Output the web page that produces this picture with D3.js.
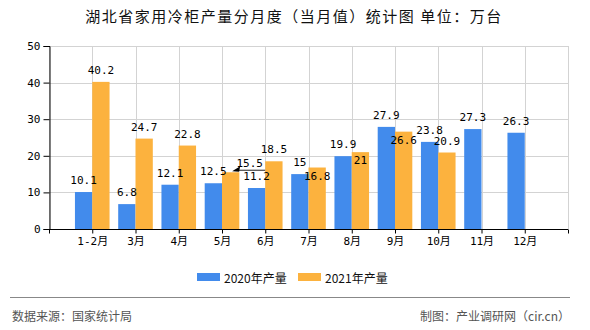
<!DOCTYPE html>
<html><head><meta charset="utf-8">
<script src="https://cdn.jsdelivr.net/npm/d3@7"></script>
<style>
html,body{margin:0;padding:0;background:#fff;}
svg{display:block;}
</style></head>
<body>
<svg id="chart" width="590" height="330"></svg>
<script>
const categories = ["1-2月","3月","4月","5月","6月","7月","8月","9月","10月","11月","12月"];
const values2020 = [10.1, 6.8, 12.1, 12.5, 11.2, 15, 19.9, 27.9, 23.8, 27.3, 26.3];
const values2021 = [40.2, 24.7, 22.8, 15.5, 18.5, 16.8, 21, 26.6, 20.9, null, null];
const seriesNames = ["2020年产量", "2021年产量"];
const yTicks = [0, 10, 20, 30, 40, 50];
const placement2021 = ["above","above","above","leader","above","inside","inside","inside","above","above","above"];
const title = "湖北省家用冷柜产量分月度（当月值）统计图 单位：万台";
const sourceText = "数据来源：国家统计局";
const creditText = "制图：产业调研网（cir.cn）";

const colors = ["#428bec", "#fcb23e"];
const monoFont = "'DejaVu Sans Mono','Liberation Mono','Noto Sans CJK SC',monospace";
const cjkFont = "'Noto Sans CJK SC','Noto Sans',sans-serif";

const svg = d3.select("#chart");
const L = 49, R = 568, T = 46, B = 229;

const x = d3.scalePoint().domain(categories).range([L, R]).padding(1);
const y = d3.scaleLinear().domain([0, 50]).range([B, T]);
const step = x.step();
const bw = step * 0.4;

// title
svg.append("text").attr("x", 294).attr("y", 22).attr("text-anchor", "middle")
  .attr("font-family", cjkFont).attr("font-size", 15).attr("letter-spacing", "1.5px")
  .attr("fill", "#111").text(title);

// grid
const grid = svg.append("g").attr("stroke", "#d3d3d3").attr("stroke-width", 1);
yTicks.filter(t => t > 0).forEach(t => {
  grid.append("line").attr("x1", L).attr("x2", R).attr("y1", Math.round(y(t)) + 0.5).attr("y2", Math.round(y(t)) + 0.5);
});
const vPos = [x(categories[0]) - step, ...categories.map(c => x(c)), x(categories[categories.length - 1]) + step];
vPos.forEach(p => {
  grid.append("line").attr("x1", Math.round(p) + 0.5).attr("x2", Math.round(p) + 0.5).attr("y1", T).attr("y2", B);
});

// bars
const bars = svg.append("g");
categories.forEach((c, i) => {
  if (values2020[i] != null) {
    bars.append("rect").attr("x", x(c) - bw).attr("width", bw)
      .attr("y", y(values2020[i])).attr("height", y(0) - y(values2020[i])).attr("fill", colors[0]);
  }
  if (values2021[i] != null) {
    bars.append("rect").attr("x", x(c)).attr("width", bw)
      .attr("y", y(values2021[i])).attr("height", y(0) - y(values2021[i])).attr("fill", colors[1]);
  }
});

// axes
const yAxis = d3.axisLeft(y).tickValues(yTicks).tickSize(6).tickPadding(3).tickFormat(d3.format("d"));
const gy = svg.append("g").attr("transform", `translate(${L + 0.5},0)`).call(yAxis);
gy.select(".domain").attr("stroke", "#000");
gy.selectAll(".tick line").attr("stroke", "#000");
gy.selectAll("text").attr("font-family", monoFont).attr("font-size", 11).attr("fill", "#000");

const xAxis = d3.axisBottom(x).tickSize(4).tickSizeOuter(0).tickPadding(4);
const gx = svg.append("g").attr("transform", `translate(0,${B + 0.5})`).call(xAxis);
gx.select(".domain").attr("stroke", "#000").attr("d", `M${L},0H${R}`);
gx.selectAll(".tick line").attr("stroke", "#000");
gx.selectAll("text").attr("font-family", monoFont).attr("font-size", 11).attr("fill", "#000");
[vPos[0], vPos[vPos.length - 1]].forEach(p => {
  gx.append("line").attr("x1", Math.round(p) + 0.5).attr("x2", Math.round(p) + 0.5).attr("y1", 0).attr("y2", 4).attr("stroke", "#000");
});

// value labels
const lab = svg.append("g").attr("font-family", monoFont).attr("font-size", 11).attr("fill", "#000").attr("text-anchor", "middle");
categories.forEach((c, i) => {
  const v = values2020[i];
  if (v != null) {
    lab.append("text").attr("x", x(c) - bw / 2).attr("y", y(v) - 8).text(v);
  }
  const w = values2021[i];
  if (w != null) {
    const cx = x(c) + bw / 2;
    const p = placement2021[i];
    if (p === "above") {
      lab.append("text").attr("x", cx).attr("y", y(w) - 8).text(w);
    } else if (p === "inside") {
      lab.append("text").attr("x", cx).attr("y", y(w) + 12).text(w);
    } else if (p === "leader") {
      const tipX = cx + 1.5, tipY = y(w) - 1;
      const endX = tipX + 33, lineY = tipY - 1.5;
      lab.append("line").attr("x1", tipX + 4).attr("y1", lineY + 0.5).attr("x2", endX).attr("y2", lineY + 0.5)
        .attr("stroke", "#444").attr("stroke-width", 1.2);
      lab.append("path").attr("d", `M${tipX},${tipY}L${tipX + 8},${lineY - 3.5}L${tipX + 7},${lineY + 2}Z`).attr("fill", "#000");
      lab.append("text").attr("x", (tipX + endX) / 2 + 1).attr("y", lineY - 3).text(w);
    }
  }
});

// legend
const lg = svg.append("g");
const legendX = [197, 298];
seriesNames.forEach((n, i) => {
  lg.append("rect").attr("x", legendX[i]).attr("y", 273).attr("width", 23).attr("height", 8).attr("fill", colors[i]);
  lg.append("text").attr("x", legendX[i] + 27).attr("y", 282.5)
    .attr("font-family", cjkFont).attr("font-size", 12).attr("fill", "#111").text(n);
});

// footer
svg.append("line").attr("x1", 10).attr("x2", 570).attr("y1", 297.5).attr("y2", 297.5).attr("stroke", "#888").attr("stroke-width", 1);
svg.append("text").attr("x", 12).attr("y", 320.5).attr("font-family", cjkFont).attr("font-size", 12).attr("fill", "#555").text(sourceText);
svg.append("text").attr("x", 570).attr("y", 320.5).attr("text-anchor", "end").attr("font-family", cjkFont).attr("font-size", 12).attr("fill", "#555").text(creditText);
</script>
</body></html>
